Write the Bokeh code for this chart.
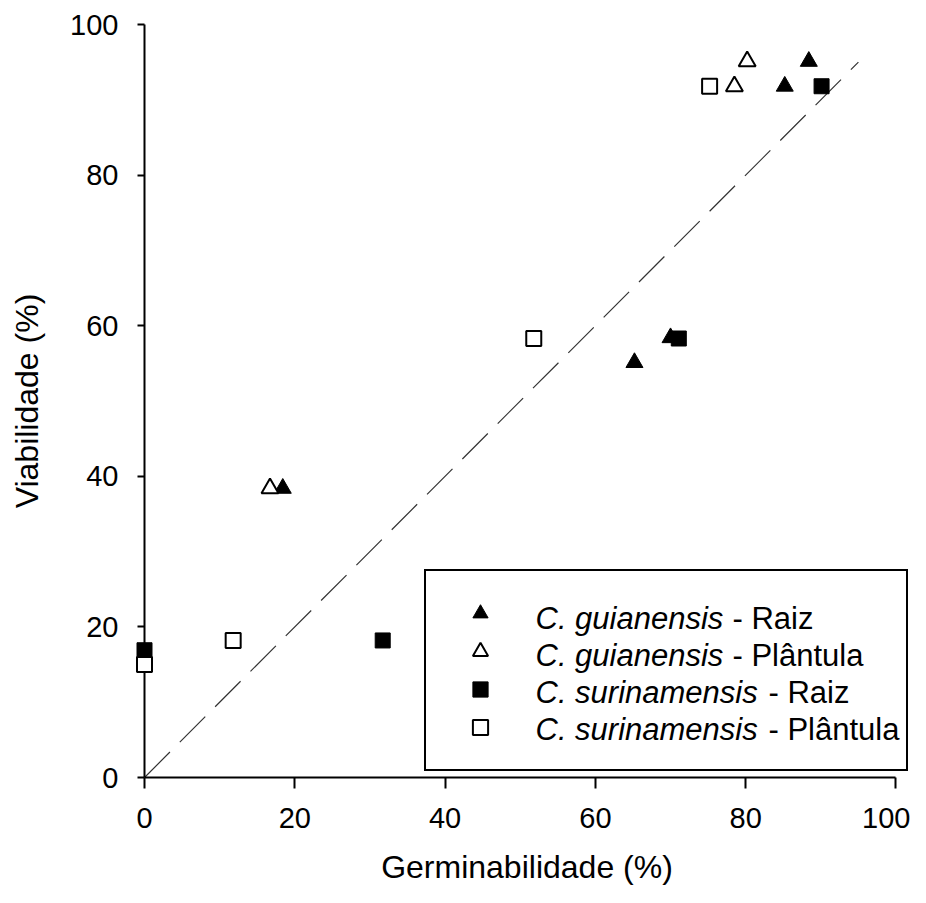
from bokeh.plotting import figure
from bokeh.models import Legend, LegendItem, Label, Range1d
from bokeh.embed import file_html
from bokeh.resources import INLINE

# ---------------- data ----------------
gui_raiz_x = [88.4, 85.2, 65.2, 70.0, 18.4]
gui_raiz_y = [95.1, 91.8, 55.1, 58.4, 38.4]
gui_plant_x = [80.2, 78.5, 16.7]
gui_plant_y = [95.1, 91.8, 38.4]
sur_raiz_x = [90.1, 71.1, 31.7, 0.0]
sur_raiz_y = [91.8, 58.3, 18.2, 16.9]
sur_plant_x = [75.2, 51.8, 11.8, 0.0]
sur_plant_y = [91.8, 58.3, 18.2, 15.0]
ref_x = [0, 95]
ref_y = [0, 95]
x_ticks = [0, 20, 40, 60, 80, 100]
y_ticks = [0, 20, 40, 60, 80, 100]
species = ["C. guianensis", "C. guianensis", "C. surinamensis", "C. surinamensis"]
parts = ["- Raiz", "- Plântula", "- Raiz", "- Plântula"]

FONT = "Liberation Sans"

# x range extends a little past 100 (axis line bounded to 0..100) so that
# the legend box, which reaches beyond the last tick, is not clipped.
p = figure(width=910, height=887, output_backend="svg", toolbar_location=None,
           x_range=Range1d(0, 101.8), y_range=Range1d(0, 100),
           min_border_left=144, min_border_right=1, min_border_top=24,
           min_border_bottom=110)
p.grid.visible = False
p.outline_line_color = None
p.background_fill_color = "white"
p.border_fill_color = "white"

p.xaxis.ticker = x_ticks
p.yaxis.ticker = y_ticks
p.xaxis.bounds = (0, 100)
for ax in (p.xaxis[0], p.yaxis[0]):
    ax.axis_line_color = "black"
    ax.axis_line_width = 2
    ax.major_tick_line_color = "black"
    ax.major_tick_line_width = 2
    ax.major_tick_in = 0
    ax.minor_tick_line_color = None
    ax.major_label_text_font = FONT
    ax.major_label_text_font_size = "29px"
    ax.major_label_text_color = "black"
    ax.axis_label_text_font = FONT
    ax.axis_label_text_font_size = "32px"
    ax.axis_label_text_font_style = "normal"
    ax.axis_label_text_color = "black"
p.xaxis.major_tick_out = 11
p.yaxis.major_tick_out = 7
p.xaxis.major_label_standoff = 19
p.yaxis.major_label_standoff = 19
p.xaxis.axis_label = "Germinabilidade (%)"
p.yaxis.axis_label = "Viabilidade (%)"
p.xaxis.axis_label_standoff = 18
p.yaxis.axis_label_standoff = 22

p.line(ref_x, ref_y, line_color="#333333", line_width=1.2, line_dash="36 14")

r1 = p.scatter(gui_raiz_x, gui_raiz_y, marker="triangle", size=17,
               fill_color="black", line_color="black", line_width=1)
r2 = p.scatter(gui_plant_x, gui_plant_y, marker="triangle", size=17,
               fill_color="white", line_color="black", line_width=2)
r3 = p.scatter(sur_raiz_x, sur_raiz_y, marker="square", size=15,
               fill_color="black", line_color="black", line_width=1)
r4 = p.scatter(sur_plant_x, sur_plant_y, marker="square", size=15,
               fill_color="white", line_color="black", line_width=2)
for r in (r1, r2, r3, r4):
    r.level = "annotation"

# legend (markers + box); texts drawn as Labels to allow italic species names
pad, gw, gh, sp, stand, lw = 23, 62, 38, -1, 5, 367
leg_x, leg_y = 280, 6
legend = Legend(items=[LegendItem(label=" ", renderers=[r]) for r in (r1, r2, r3, r4)],
                location=(leg_x, leg_y), margin=0, padding=pad, spacing=sp,
                glyph_width=gw, glyph_height=gh, label_height=gh, label_width=lw,
                label_standoff=stand, label_text_font_size="31px",
                border_line_color="black", border_line_width=2,
                border_line_alpha=1.0,
                background_fill_color="white", background_fill_alpha=0.0)
p.add_layout(legend, "center")

leg_h = 2 * pad + 4 * gh + 3 * sp
text_x = leg_x + 111
offs = [197, 197, 233, 233]
for i in range(4):
    yc = leg_y + leg_h - pad - gh / 2 - i * (gh + sp)
    a = Label(x=text_x, y=yc, x_units="screen", y_units="screen",
              text=species[i], text_font=FONT, text_font_size="31px",
              text_font_style="italic", text_baseline="middle",
              text_color="black", level="overlay")
    b = Label(x=text_x + offs[i], y=yc, x_units="screen", y_units="screen",
              text=parts[i], text_font=FONT, text_font_size="31px",
              text_baseline="middle", text_color="black", level="overlay")
    p.add_layout(a)
    p.add_layout(b)

open("out.html", "w").write(file_html(p, INLINE))
